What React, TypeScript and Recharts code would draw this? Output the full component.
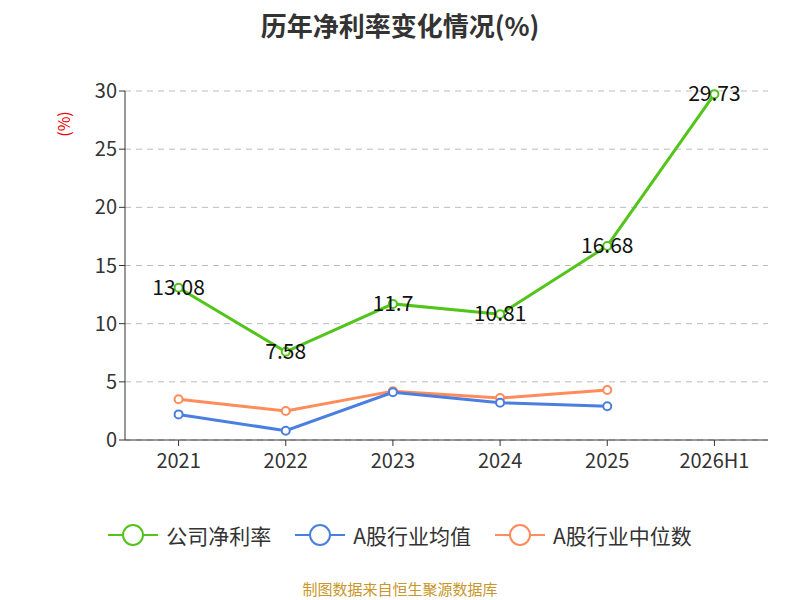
import { LineChart, Line, XAxis, YAxis, CartesianGrid } from 'recharts';

const categories = ['2021', '2022', '2023', '2024', '2025', '2026H1'];
const companyRate = [13.08, 7.58, 11.7, 10.81, 16.68, 29.73];
const industryAvg = [2.2, 0.8, 4.1, 3.2, 2.9, null];
const industryMedian = [3.5, 2.5, 4.2, 3.6, 4.3, null];
const yTicks = [0, 5, 10, 15, 20, 25, 30];

const legendItems = [
  { label: '公司净利率', color: '#52c41a' },
  { label: 'A股行业均值', color: '#4a7fe0' },
  { label: 'A股行业中位数', color: '#ff8c5a' },
];

const data = categories.map((c, i) => ({
  name: c,
  company: companyRate[i],
  avg: industryAvg[i],
  median: industryMedian[i],
}));

const font = '"Noto Sans CJK SC", "Noto Sans", sans-serif';

export default function App() {
  return (
    <div style={{ position: 'absolute', left: 0, top: 0, width: 800, height: 600, fontFamily: font, background: '#fff' }}>
      <div style={{ position: 'absolute', top: 6, width: 800, textAlign: 'center', fontSize: 26, fontWeight: 'bold', color: '#333' }}>
        历年净利率变化情况(%)
      </div>
      <div style={{ position: 'absolute', left: 50, top: 112, color: '#e00', fontSize: 16, transform: 'rotate(-90deg)', transformOrigin: 'center' }}>(%)</div>
      <LineChart width={800} height={600} data={data} margin={{ top: 91, right: 32, left: 0, bottom: 104 }}>
        <CartesianGrid vertical={false} strokeDasharray="6 5" stroke="#bbb" />
        <XAxis dataKey="name" scale="band" stroke="#333" tick={{ fill: '#333', fontSize: 20 }} tickMargin={8} height={56} />
        <YAxis ticks={yTicks} domain={[0, 30]} width={125} stroke="#333" tick={{ fill: '#333', fontSize: 20 }} />
        <Line dataKey="median" stroke="#ff8c5a" strokeWidth={3} dot={{ r: 4, fill: '#fff', strokeWidth: 2 }} isAnimationActive={false} />
        <Line dataKey="avg" stroke="#4a7fe0" strokeWidth={3} dot={{ r: 4, fill: '#fff', strokeWidth: 2 }} isAnimationActive={false} />
        <Line
          dataKey="company"
          stroke="#52c41a"
          strokeWidth={3}
          dot={{ r: 4, fill: '#fff', strokeWidth: 2 }}
          isAnimationActive={false}
          label={({ x, y, value }: any) => (
            <text x={x} y={y} dy={7} textAnchor="middle" fontSize={21} fill="#111">{value}</text>
          )}
        />
      </LineChart>
      <div style={{ position: 'absolute', top: 520, width: 800, display: 'flex', justifyContent: 'center', gap: 24, fontSize: 21, color: '#333' }}>
        {legendItems.map((it) => (
          <div key={it.label} style={{ display: 'flex', alignItems: 'center', gap: 8 }}>
            <svg width={50} height={30}>
              <line x1={0} y1={15} x2={50} y2={15} stroke={it.color} strokeWidth={2} />
              <circle cx={25} cy={15} r={10} fill="#fff" stroke={it.color} strokeWidth={2} />
            </svg>
            <span>{it.label}</span>
          </div>
        ))}
      </div>
      <div style={{ position: 'absolute', top: 578, width: 800, textAlign: 'center', fontSize: 15, color: '#c8962a' }}>
        制图数据来自恒生聚源数据库
      </div>
    </div>
  );
}
